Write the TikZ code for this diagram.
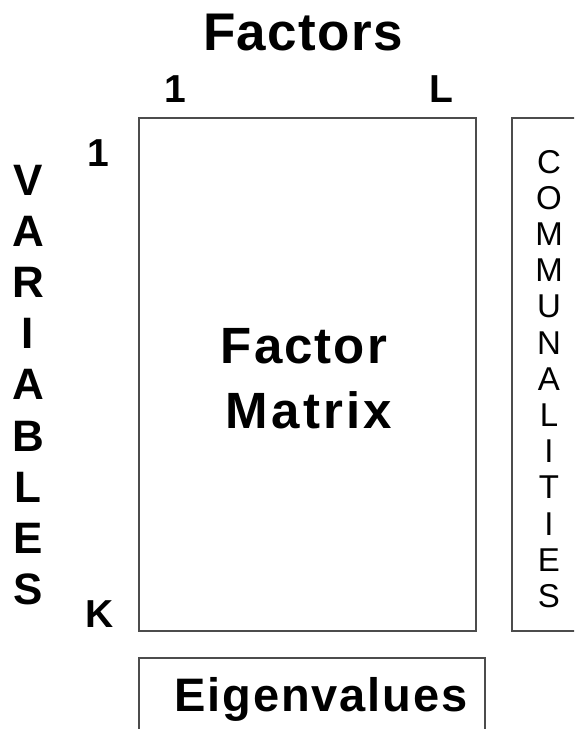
\documentclass[tikz,border=0pt]{standalone}
\usepackage{fontspec}
\setmainfont{Liberation Sans}
\newfontfamily\headbold[LetterSpace=2.5]{Liberation Sans Bold}
\newfontfamily\factorbold[LetterSpace=4]{Liberation Sans Bold}
\newfontfamily\matrixbold[LetterSpace=6.5]{Liberation Sans Bold}
\newfontfamily\eigbold[LetterSpace=4]{Liberation Sans Bold}
\begin{document}
\begin{tikzpicture}[x=1pt,y=-1pt,
  frame/.style={draw=black!70,line width=1.4pt},
  label/.style={inner sep=0pt,anchor=base},
  idx/.style={label,font=\fontsize{39}{44}\selectfont\bfseries},
  vletter/.style={label,font=\fontsize{44}{50}\selectfont\bfseries},
  cletter/.style={label,font=\fontsize{33}{38}\selectfont}]
\useasboundingbox (0,0) rectangle (574,729);
\clip (0,0) rectangle (574,729);
\fill[white] (0,0) rectangle (574,729);

% boxes: factor matrix, communalities column, eigenvalue row
\draw[frame] (139,118) rectangle (476,631);
\draw[frame] (512,118) rectangle (600,631);
\draw[frame] (139,658) rectangle (485,760);

% heading and indices
\node[label,font=\fontsize{53}{60}\selectfont\headbold] (factors) at (303,50) {Factors};
\node[idx] (f1) at (175,102) {1};
\node[idx] (fL) at (441,102) {L};
\node[idx] (v1) at (98,166) {1};
\node[idx] (vK) at (100,627) {K};

% centre label
\node[label,font=\fontsize{51}{58}\selectfont\factorbold] (fm1) at (304,363) {Factor};
\node[label,font=\fontsize{51}{58}\selectfont\matrixbold] (fm2) at (309,428) {Matrix};

\node[label,font=\fontsize{47}{52}\selectfont\eigbold] (eig) at (321,711) {Eigenvalues};

% vertical word on the left
\foreach \l [count=\i from 0] in {V,A,R,I,A,B,L,E,S}
  \node[vletter] (var\i) at (28,195+51.2*\i) {\l};

% vertical word on the right
\foreach \l [count=\i from 0] in {C,O,M,M,U,N,A,L,I,T,I,E,S}
  \node[cletter] (com\i) at (549,173+36.2*\i) {\l};
\end{tikzpicture}
\end{document}
